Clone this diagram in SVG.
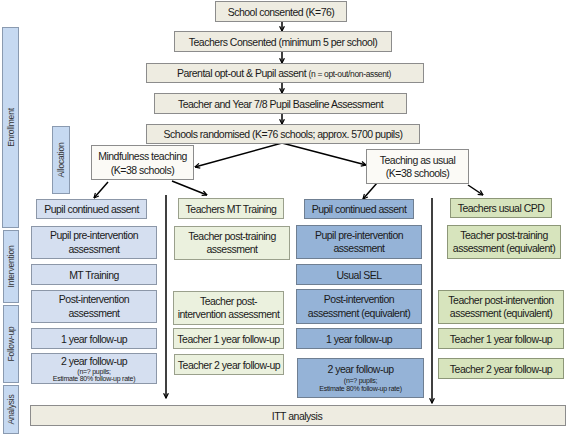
<svg xmlns="http://www.w3.org/2000/svg" width="567" height="435" viewBox="0 0 567 435">
<defs>
<style>
text{font-family:"Liberation Sans",Arial,sans-serif;font-size:10.5px;fill:#1a1a1a;text-anchor:middle;letter-spacing:-0.5px}
.sm{font-size:8.5px;letter-spacing:-0.35px}
.xs{font-size:7px;letter-spacing:-0.25px}
.side{font-size:8.5px;fill:#333;letter-spacing:-0.2px}
.beige{fill:#eeece1;stroke:#8c8c8c;stroke-width:1}
.lb{fill:#d5dff0;stroke:#8c97a8;stroke-width:1}
.db{fill:#95b3d7;stroke:#6f7f92;stroke-width:1}
.lg{fill:#ebf1de;stroke:#9aa08c;stroke-width:1}
.dg{fill:#d7e4bd;stroke:#8d9778;stroke-width:1}
.bar{fill:#c6d9f1;stroke:#8a9ab0;stroke-width:1}
.ln{stroke:#000;stroke-width:1.5;fill:none;marker-end:url(#ah)}
</style>
<marker id="ah" viewBox="0 0 10 10" refX="9" refY="5" markerWidth="6" markerHeight="6" orient="auto" markerUnits="userSpaceOnUse">
<path d="M1,1 L9,5 L1,9" fill="none" stroke="#000" stroke-width="2"/>
</marker>
</defs>
<rect width="567" height="435" fill="#fff"/>

<g id="phases">
<g id="bar-enrollment"><rect class="bar" x="2.5" y="27.5" width="16" height="200"/><text class="side" transform="translate(13.5,127.5) rotate(-90)">Enrollment</text></g>
<g id="bar-allocation"><rect class="bar" x="52.5" y="126.5" width="17" height="67"/><text class="side" transform="translate(64,160) rotate(-90)">Allocation</text></g>
<g id="bar-intervention"><rect class="bar" x="3.5" y="230.5" width="15" height="72"/><text class="side" transform="translate(14,266.5) rotate(-90)">Intervention</text></g>
<g id="bar-followup"><rect class="bar" x="3.5" y="305.5" width="15" height="77"/><text class="side" transform="translate(14,344) rotate(-90)">Follow-up</text></g>
<g id="bar-analysis"><rect class="bar" x="3.5" y="385.5" width="15" height="48"/><text class="side" transform="translate(14,409.5) rotate(-90)">Analysis</text></g>
</g>

<g id="connectors">
<line class="ln" x1="282" y1="21" x2="282" y2="31"/>
<line class="ln" x1="282" y1="51" x2="282" y2="63"/>
<line class="ln" x1="282" y1="82" x2="282" y2="93"/>
<line class="ln" x1="282" y1="113" x2="282" y2="124"/>
<line class="ln" x1="282" y1="143" x2="195" y2="167"/>
<line class="ln" x1="282" y1="143" x2="366" y2="165"/>
<line class="ln" x1="108" y1="182" x2="94" y2="198"/>
<line class="ln" x1="172" y1="181" x2="207" y2="195"/>
<line class="ln" x1="377" y1="183" x2="363" y2="199"/>
<line class="ln" x1="468" y1="185" x2="483" y2="195"/>
<line class="ln" x1="166" y1="195" x2="166" y2="398"/>
<line class="ln" x1="432" y1="198" x2="432" y2="403"/>
</g>

<g id="n-school"><rect class="beige" x="215.5" y="1.5" width="131" height="20"/><text x="281" y="15.5">School consented (K=76)</text></g>
<g id="n-teachers"><rect class="beige" x="174.5" y="31.5" width="217" height="20"/><text x="283" y="45.5">Teachers Consented (minimum 5 per school)</text></g>
<g id="n-parental"><rect class="beige" x="146.5" y="63.5" width="277" height="19"/><text x="284" y="77">Parental opt-out &amp; Pupil assent <tspan class="sm">(n = opt-out/non-assent)</tspan></text></g>
<g id="n-baseline"><rect class="beige" x="154.5" y="93.5" width="252" height="20"/><text x="280.5" y="107.5">Teacher and Year 7/8 Pupil Baseline Assessment</text></g>
<g id="n-random"><rect class="beige" x="146.5" y="124.5" width="273" height="19"/><text x="283" y="138">Schools randomised (K=76 schools; approx. 5700 pupils)</text></g>

<g id="n-mindful"><rect fill="#fbfaf6" stroke="#8c8c8c" x="91.5" y="145.5" width="102" height="34"/><text x="142.5" y="160">Mindfulness teaching</text><text x="142.5" y="173.5">(K=38 schools)</text></g>
<g id="n-tau"><rect fill="#fbfaf6" stroke="#8c8c8c" x="366.5" y="149.5" width="102" height="34"/><text x="417.5" y="163.5">Teaching as usual</text><text x="417.5" y="177">(K=38 schools)</text></g>

<g id="n-mt-assent"><rect class="lb" x="36.5" y="199.5" width="110" height="19"/><text x="91.5" y="213">Pupil continued assent</text></g>
<g id="n-mt-pre"><rect class="lb" x="31.5" y="226.5" width="125" height="32"/><text x="94" y="239">Pupil pre-intervention</text><text x="94" y="252.5">assessment</text></g>
<g id="n-mt-training"><rect class="lb" x="31.5" y="264.5" width="125" height="20"/><text x="94" y="278.5">MT Training</text></g>
<g id="n-mt-post"><rect class="lb" x="31.5" y="290.5" width="125" height="32"/><text x="94" y="303">Post-intervention</text><text x="94" y="316.5">assessment</text></g>
<g id="n-mt-1y"><rect class="lb" x="31.5" y="328.5" width="125" height="20"/><text x="94" y="342.5">1 year follow-up</text></g>
<g id="n-mt-2y"><rect class="lb" x="31.5" y="353.5" width="125" height="30"/><text x="94" y="365">2 year follow-up</text><text class="xs" x="94" y="373.5">(n=? pupils;</text><text class="xs" x="94" y="381">Estimate 80% follow-up rate)</text></g>

<g id="n-tmt-training"><rect class="lg" x="178.5" y="198.5" width="105" height="20"/><text x="231" y="212.5">Teachers MT Training</text></g>
<g id="n-tmt-post"><rect class="lg" x="174.5" y="226.5" width="115" height="33"/><text x="232" y="239.5">Teacher post-training</text><text x="232" y="253">assessment</text></g>
<g id="n-tmt-postint"><rect class="lg" x="173.5" y="291.5" width="110" height="33"/><text x="228.5" y="304.5">Teacher post-</text><text x="228.5" y="318">intervention assessment</text></g>
<g id="n-tmt-1y"><rect class="lg" x="173.5" y="328.5" width="110" height="20"/><text x="228.5" y="342.5">Teacher 1 year follow-up</text></g>
<g id="n-tmt-2y"><rect class="lg" x="174.5" y="354.5" width="109" height="20"/><text x="229" y="368.5">Teacher 2 year follow-up</text></g>

<g id="n-tau-assent"><rect class="db" x="304.5" y="199.5" width="109" height="19"/><text x="359" y="213">Pupil continued assent</text></g>
<g id="n-tau-pre"><rect class="db" x="296.5" y="225.5" width="125" height="33"/><text x="359" y="238.5">Pupil pre-intervention</text><text x="359" y="252">assessment</text></g>
<g id="n-tau-sel"><rect class="db" x="296.5" y="264.5" width="125" height="20"/><text x="359" y="278.5">Usual SEL</text></g>
<g id="n-tau-post"><rect class="db" x="296.5" y="289.5" width="125" height="34"/><text x="359" y="303">Post-intervention</text><text x="359" y="316.5">assessment (equivalent)</text></g>
<g id="n-tau-1y"><rect class="db" x="296.5" y="328.5" width="125" height="20"/><text x="359" y="342.5">1 year follow-up</text></g>
<g id="n-tau-2y"><rect class="db" x="297.5" y="358.5" width="126" height="39"/><text x="360.5" y="372.5">2 year follow-up</text><text class="xs" x="360.5" y="382.5">(n=? pupils;</text><text class="xs" x="360.5" y="390.5">Estimate 80% follow-up rate)</text></g>

<g id="n-ttau-cpd"><rect class="dg" x="450.5" y="198.5" width="101" height="19"/><text x="501" y="212">Teachers usual CPD</text></g>
<g id="n-ttau-post"><rect class="dg" x="447.5" y="225.5" width="113" height="33"/><text x="504" y="238.5">Teacher post-training</text><text x="504" y="252">assessment (equivalent)</text></g>
<g id="n-ttau-postint"><rect class="dg" x="438.5" y="290.5" width="125" height="33"/><text x="501" y="303.5">Teacher post-intervention</text><text x="501" y="317">assessment (equivalent)</text></g>
<g id="n-ttau-1y"><rect class="dg" x="438.5" y="328.5" width="125" height="20"/><text x="501" y="342.5">Teacher 1 year follow-up</text></g>
<g id="n-ttau-2y"><rect class="dg" x="438.5" y="358.5" width="125" height="20"/><text x="501" y="372.5">Teacher 2 year follow-up</text></g>

<g id="n-itt"><rect class="beige" x="30.5" y="405.5" width="535" height="20"/><text x="297" y="419.5">ITT analysis</text></g>
</svg>
